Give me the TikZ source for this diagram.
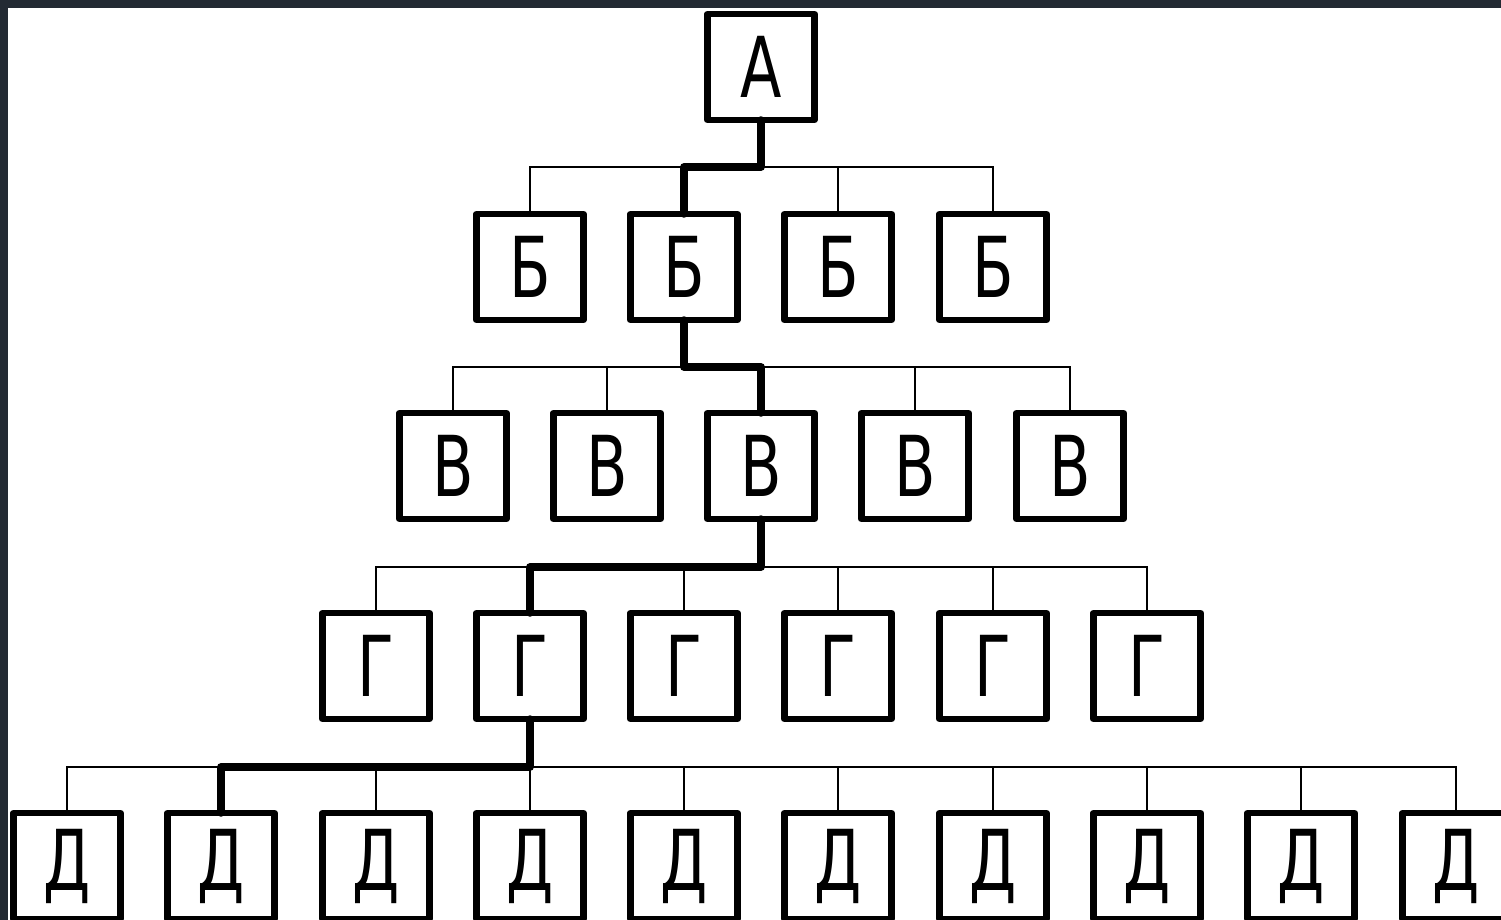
\documentclass[tikz,border=0pt]{standalone}
\usepackage{fontspec}
\setmainfont{DejaVu Sans}[FakeStretch=0.72]
\definecolor{frame}{HTML}{232A33}
\tikzset{
  box/.style={draw=black, line width=6.5pt, line join=round, fill=white,
    minimum width=107pt, minimum height=106pt, inner sep=0pt, outer sep=0pt,
    font=\fontsize{84}{84}\selectfont},
  bus/.style={draw=black, line width=1.4pt},
  hl/.style={draw=black, line width=7.5pt, line join=round, line cap=round}
}
\begin{document}
\begin{tikzpicture}[x=1pt,y=-1pt]
\useasboundingbox (0,0) rectangle (1501,920);
\clip (0,0) rectangle (1501,920);
\fill[frame] (0,0) rectangle (1501,920);
\fill[white] (8,8) rectangle (1501,920);
% bus coordinates
\coordinate (busA) at (761,167);
\coordinate (busB) at (761,367);
\coordinate (busC) at (761,567);
\coordinate (busD) at (761,767);
% thin buses
\draw[bus] (530,212) -- (530,167) -- (993,167) -- (993,212);
\foreach \x in {684,838} \draw[bus] (\x,167) -- (\x,212);
\draw[bus] (453,411) -- (453,367) -- (1070,367) -- (1070,411);
\foreach \x in {607,761,915} \draw[bus] (\x,367) -- (\x,411);
\draw[bus] (376,611) -- (376,567) -- (1147,567) -- (1147,611);
\foreach \x in {530,684,838,993} \draw[bus] (\x,567) -- (\x,611);
\draw[bus] (67,811) -- (67,767) -- (1456,767) -- (1456,811);
\foreach \x in {221,376,530,684,838,993,1147,1301} \draw[bus] (\x,767) -- (\x,811);
% nodes
\node[box] (a) at (761,67) {А};
\foreach \x [count=\i] in {530,684,838,993} \node[box] (b\i) at (\x,267) {Б};
\foreach \x [count=\i] in {453,607,761,915,1070} \node[box] (v\i) at (\x,466) {В};
\foreach \x [count=\i] in {376,530,684,838,993,1147} \node[box] (g\i) at (\x,666) {Г};
\foreach \x [count=\i] in {67,221,376,530,684,838,993,1147,1301,1456} \node[box] (d\i) at (\x,866) {Д};
% highlighted path
\draw[hl] (a.south) -- (a.south |- busA) -| (b2.north);
\draw[hl] (b2.south) -- (b2.south |- busB) -| (v3.north);
\draw[hl] (v3.south) -- (v3.south |- busC) -| (g2.north);
\draw[hl] (g2.south) -- (g2.south |- busD) -| (d2.north);
\end{tikzpicture}
\end{document}
